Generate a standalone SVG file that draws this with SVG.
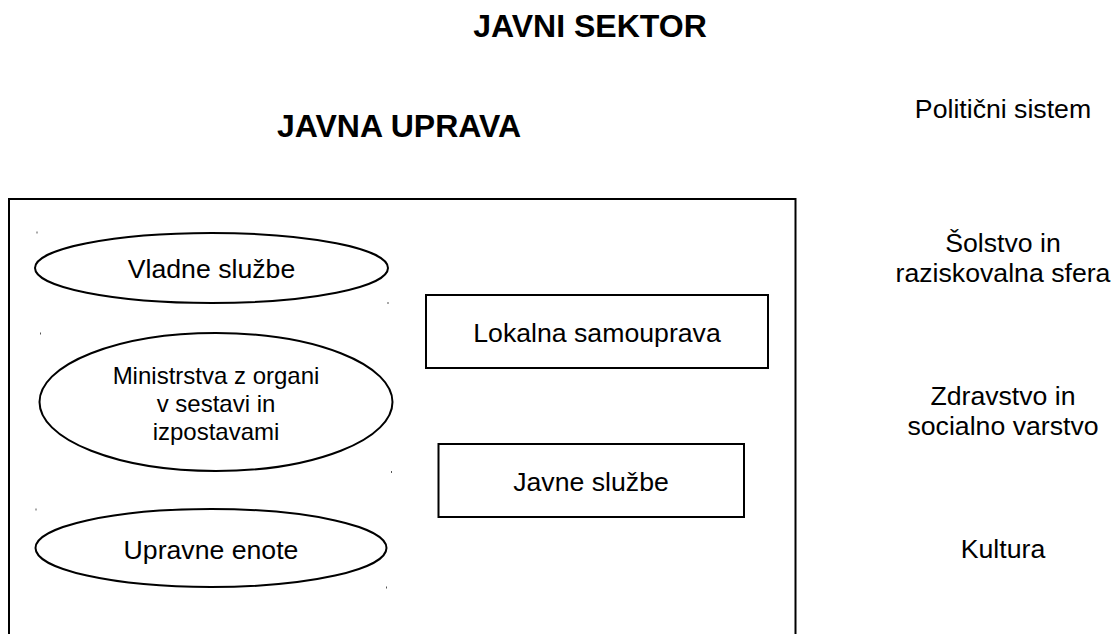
<svg xmlns="http://www.w3.org/2000/svg" width="1114" height="634" viewBox="0 0 1114 634">
<style>
text{font-family:"Liberation Sans",Arial,sans-serif;fill:#000;text-anchor:middle}
.t{font-size:32px;font-weight:bold}
.l{font-size:26.67px}
.s{font-size:24px}
.shape{fill:#fff;stroke:#000;stroke-width:2}
.tick{stroke:#555;stroke-width:1}
</style>
<rect width="1114" height="634" fill="#fff"/>
<g id="titles">
<text class="t" x="590" y="37">JAVNI SEKTOR</text>
<text class="t" x="399" y="137">JAVNA UPRAVA</text>
</g>
<g id="javna-uprava-box">
<path d="M9,640 V199 H795.5 V640" fill="none" stroke="#000" stroke-width="2"/>
</g>
<g id="vladne-sluzbe">
<ellipse class="shape" cx="211.5" cy="268" rx="176.5" ry="35"/>
<text class="l" x="211.5" y="278">Vladne službe</text>
</g>
<g id="ministrstva">
<ellipse class="shape" cx="216" cy="402" rx="176.5" ry="69"/>
<text class="s" x="216" y="384">Ministrstva z organi</text>
<text class="s" x="216" y="412">v sestavi in</text>
<text class="s" x="216" y="439.5">izpostavami</text>
</g>
<g id="upravne-enote">
<ellipse class="shape" cx="211" cy="548" rx="175.5" ry="39"/>
<text class="l" x="211" y="559">Upravne enote</text>
</g>
<g id="lokalna-samouprava">
<rect class="shape" x="426" y="295" width="342" height="73"/>
<text class="l" x="597" y="342">Lokalna samouprava</text>
</g>
<g id="javne-sluzbe">
<rect class="shape" x="438.5" y="444" width="305.5" height="73"/>
<text class="l" x="591" y="491">Javne službe</text>
</g>
<g id="right-labels">
<text class="l" x="1003" y="118">Politični sistem</text>
<text class="l" x="1003" y="252">Šolstvo in</text>
<text class="l" x="1003" y="282">raziskovalna sfera</text>
<text class="l" x="1003" y="405">Zdravstvo in</text>
<text class="l" x="1003" y="435">socialno varstvo</text>
<text class="l" x="1003" y="558">Kultura</text>
</g>
<g id="connectors"></g>
<g id="ticks">
<line class="tick" x1="37" y1="231.5" x2="37" y2="233.5"/>
<line class="tick" x1="388" y1="302" x2="388" y2="304"/>
<line class="tick" x1="40.5" y1="332.5" x2="40.5" y2="334.5"/>
<line class="tick" x1="391.5" y1="471" x2="391.5" y2="473"/>
<line class="tick" x1="36" y1="508.5" x2="36" y2="510.5"/>
<line class="tick" x1="386.5" y1="586.5" x2="386.5" y2="588.5"/>
</g>
</svg>
